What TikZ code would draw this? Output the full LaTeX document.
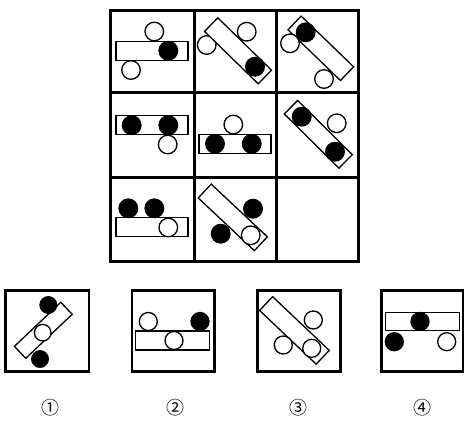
\documentclass[tikz,border=0pt]{standalone}
\usepackage{fontspec}
\newfontfamily\cjk{Noto Sans CJK JP}
\begin{document}
\begin{tikzpicture}[x=1pt,y=-1pt,
  gridline/.style={line width=3pt},
  optbox/.style={line width=2.8pt},
  bar/.style={draw,fill=white,line width=1.3pt,rectangle,inner sep=0pt,minimum width=72pt,minimum height=19pt},
  wc/.style={draw,fill=white,line width=1.3pt},
  bc/.style={draw,fill=black,line width=1.3pt},
  lab/.style={font=\cjk\fontsize{18}{18}\selectfont,inner sep=0pt}]
\useasboundingbox (0,0) rectangle (465,421);
\def\r{9.3}
% grid
\draw[gridline] (110.5,10) rectangle (358.5,261.5);
\draw[gridline] (194.5,10) -- (194.5,261.5);
\draw[gridline] (276.5,10) -- (276.5,261.5);
\draw[gridline] (110.5,92) -- (358.5,92);
\draw[gridline] (110.5,177) -- (358.5,177);
% cell 1,1
\node[bar] (b11) at (152,50.7) {};
\draw[bc] (168.3,50.7) circle (\r);
\draw[wc] (154.3,31.5) circle (\r);
\draw[wc] (131,70) circle (\r);
% cell 1,2
\draw[wc] (206.7,45) circle (\r);
\node[bar,minimum width=75pt,rotate=-44.3] (b12) at (238,50.8) {};
\draw[bc] (255,66.7) circle (\r);
\draw[wc] (246.7,31.7) circle (\r);
% cell 1,3
\node[bar,minimum width=73pt,rotate=-44] (b13) at (320.8,48.3) {};
\draw[wc] (290,43.3) circle (\r);
\draw[bc] (305.7,32.3) circle (\r);
\draw[wc] (324,79) circle (\r);
% cell 2,1
\node[bar] (b21) at (152,125.2) {};
\draw[bc] (131.7,125.2) circle (\r);
\draw[bc] (168.3,125.2) circle (\r);
\draw[wc] (167.7,144.5) circle (\r);
% cell 2,2
\node[bar] (b22) at (235,143.8) {};
\draw[bc] (215,143.8) circle (\r);
\draw[bc] (251.7,143.8) circle (\r);
\draw[wc] (233.3,124.5) circle (\r);
% cell 2,3
\node[bar,minimum width=77pt,rotate=-44.8] (b23) at (318.3,134.3) {};
\draw[bc] (301.7,116.7) circle (\r);
\draw[bc] (335,151.7) circle (\r);
\draw[wc] (336.7,123.3) circle (\r);
% cell 3,1
\node[bar] (b31) at (152,227.2) {};
\draw[bc] (128.3,208.3) circle (\r);
\draw[bc] (154.3,208.3) circle (\r);
\draw[wc] (168.3,227.5) circle (\r);
% cell 3,2
\node[bar,minimum width=77pt,rotate=-43.2] (b32) at (232.8,217.4) {};
\draw[wc] (250.7,235.3) circle (\r);
\draw[bc] (253,208.7) circle (\r);
\draw[bc] (220.7,233.7) circle (\r);
% option boxes
\draw[optbox] (5.5,290.5) rectangle (89,371.5);
\draw[optbox] (132,290.5) rectangle (214.5,371.5);
\draw[optbox] (257.5,290.5) rectangle (340.5,371.5);
\draw[optbox] (381.5,290.5) rectangle (463,371.5);
% option 1
\node[bar,minimum width=64pt,minimum height=16.5pt,rotate=43.5] (o1) at (43.3,330.3) {};
\draw[bc] (48.3,305) circle (8.3);
\draw[wc] (42.7,332.7) circle (8.3);
\draw[bc] (40,359) circle (8.3);
% option 2
\node[bar,minimum width=74pt] (o2) at (172.2,340.5) {};
\draw[wc] (148.3,321.5) circle (9);
\draw[bc] (200,321.5) circle (9);
\draw[wc] (174,340.5) circle (9);
% option 3
\node[bar,minimum width=78pt,rotate=-43.5] (o3) at (294.4,330.4) {};
\draw[wc] (313.3,320) circle (9);
\draw[wc] (283.3,345) circle (9);
\draw[wc] (311.7,348.3) circle (9);
% option 4
\node[bar,minimum width=74pt,minimum height=18pt] (o4) at (422.2,321.5) {};
\draw[bc] (420,321.5) circle (9);
\draw[bc] (394.3,341.7) circle (9);
\draw[wc] (446.7,341.7) circle (9);
% labels
\node[lab] (l1) at (50,408) {①};
\node[lab] (l2) at (175,408) {②};
\node[lab] (l3) at (298,408) {③};
\node[lab] (l4) at (422,408) {④};
\end{tikzpicture}
\end{document}
